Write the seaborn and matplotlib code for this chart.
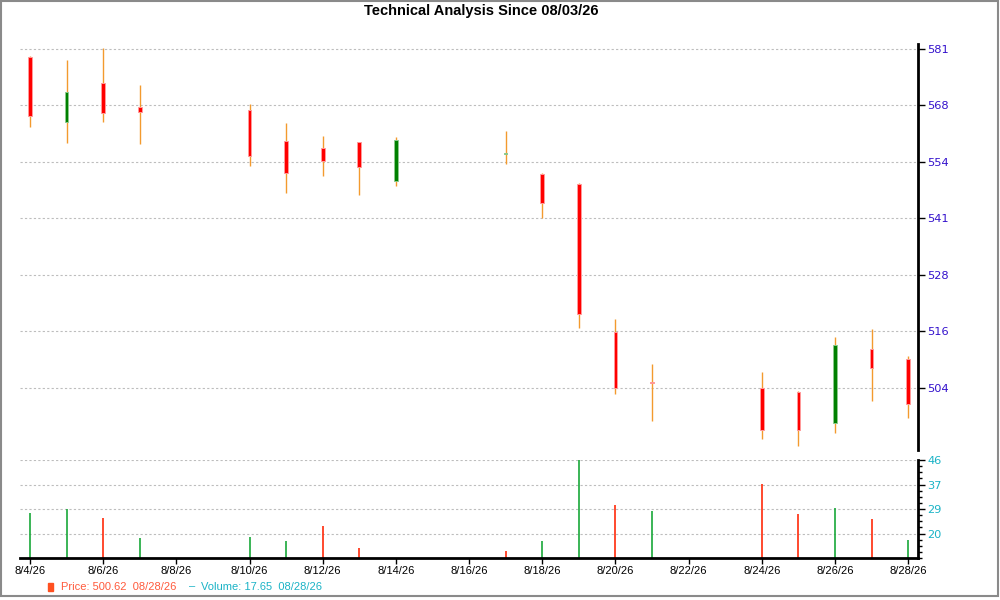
import matplotlib
matplotlib.use('Agg')
import matplotlib.pyplot as plt
import matplotlib.dates as mdates
from matplotlib.patches import Rectangle
from matplotlib.ticker import FixedLocator, NullLocator, FuncFormatter
import numpy as np
import pandas as pd
import seaborn as sns

# daily OHLC + volume
dates = ['2026-08-04', '2026-08-05', '2026-08-06', '2026-08-07', '2026-08-10',
         '2026-08-11', '2026-08-12', '2026-08-13', '2026-08-14', '2026-08-17',
         '2026-08-18', '2026-08-19', '2026-08-20', '2026-08-21', '2026-08-24',
         '2026-08-25', '2026-08-26', '2026-08-27', '2026-08-28']
opens = [579.0, 563.4, 572.7, 567.1, 566.3, 559.1, 557.3, 558.7, 549.8, 555.9,
         551.3, 549.0, 516.0, 505.3, 504.1, 503.2, 496.6, 512.4, 510.1]
highs = [579.3, 578.3, 581.3, 572.3, 567.8, 563.2, 560.2, 558.9, 560.0, 561.4,
         551.5, 549.2, 518.8, 509.2, 507.3, 503.4, 514.9, 516.6, 510.8]
lows = [562.4, 558.6, 563.6, 558.4, 553.2, 547.0, 550.9, 546.6, 548.6, 553.6,
        541.3, 516.9, 502.7, 497.1, 493.4, 491.9, 494.6, 501.3, 497.6]
closes = [564.8, 570.7, 565.6, 565.9, 555.4, 551.5, 554.4, 553.0, 559.2, 556.2,
          544.6, 519.9, 503.9, 505.0, 495.3, 495.3, 513.1, 508.3, 500.62]
# 8/14 volume sits below the axis floor, so no bar shows
volumes = [27.3, 28.7, 25.5, 18.5, 18.8, 17.5, 22.8, 15.0, 0.0, 13.7,
           17.5, 46.0, 30.2, 28.1, 37.6, 27.0, 29.0, 25.3, 17.65]
vol_up = [True, True, False, True, True, True, False, False, True, False,
          True, True, False, True, False, False, True, False, True]

price_ticks = [504, 516, 528, 541, 554, 568, 581]
vol_ticks = [20, 29, 37, 46]
title = 'Technical Analysis Since 08/03/26'
last_price = '500.62'
last_volume = '17.65'
last_date = '08/28/26'

df = pd.DataFrame({'date': pd.to_datetime(dates), 'open': opens, 'high': highs,
                   'low': lows, 'close': closes, 'volume': volumes, 'up': vol_up})
df['x'] = mdates.date2num(df['date'])

sns.set_theme(style='white')
plt.rcParams['font.family'] = ['Liberation Sans', 'DejaVu Sans']

fig = plt.figure(figsize=(10, 6), dpi=100)
ax = fig.add_axes([0.02, 0.25, 0.898, 0.6767])
axv = fig.add_axes([0.02, 0.07, 0.898, 0.1633], sharex=ax)

# candles
ax.vlines(df['x'], df['low'], df['high'], color='#f39a2e', lw=1, zorder=2)
body_lo = np.minimum(df['open'], df['close'])
body_h = np.abs(df['close'] - df['open'])
up = df['close'] > df['open']
ax.bar(df['x'][up], body_h[up], bottom=body_lo[up], width=0.1,
       color='#008000', edgecolor='#8cc98c', lw=0.7, zorder=3)
ax.bar(df['x'][~up], body_h[~up], bottom=body_lo[~up], width=0.1,
       color='#ff0000', edgecolor='#ff9a9a', lw=0.7, zorder=3)

ax.set_yscale('log')
lo_p = 504 * np.exp(-62 * 0.0004195)
hi_p = 504 * np.exp(344 * 0.0004195)
ax.set_ylim(lo_p, hi_p)
pt = np.geomspace(504, 581.1, 7)
ax.yaxis.set_major_locator(FixedLocator(pt))
ax.yaxis.set_minor_locator(NullLocator())
ax.set_yticklabels([str(v) for v in price_ticks])
ax.yaxis.tick_right()
ax.tick_params(axis='y', which='major', direction='out', length=5, width=1,
               color='black', pad=1.5, labelsize=8.2, labelcolor='#3311cc', right=True)
for lab in ax.get_yticklabels():
    lab.set_family('DejaVu Sans')
ax.tick_params(axis='x', bottom=False, labelbottom=False)
ax.grid(axis='y', color='#bdbdbd', ls=(0, (2, 2)), lw=0.8)
for s in ['left', 'top', 'bottom']:
    ax.spines[s].set_visible(False)
ax.spines['right'].set_color('black')
ax.spines['right'].set_linewidth(2)

# volume
vmin = 20 - (46 - 20) / 3
vsel = df[df['volume'] > 0]
axv.vlines(vsel['x'], vmin, vsel['volume'],
           colors=np.where(vsel['up'], '#19a83a', '#ff2a0a'), lw=1.2)
axv.set_ylim(vmin, 46)
vt = np.linspace(20, 46, 4)
axv.yaxis.set_major_locator(FixedLocator(vt))
axv.yaxis.set_minor_locator(FixedLocator(np.arange(vmin, 46.01, (46 - 20) / 12)))
axv.set_yticklabels([str(v) for v in vol_ticks])
axv.yaxis.tick_right()
axv.tick_params(axis='y', which='major', direction='out', length=5, width=1,
                color='black', pad=1.5, labelsize=8.2, labelcolor='#1ab3c6', right=True)
axv.tick_params(axis='y', which='minor', direction='out', length=3, width=1,
                color='black', right=True)
for lab in axv.get_yticklabels():
    lab.set_family('DejaVu Sans')
axv.grid(axis='y', color='#bdbdbd', ls=(0, (2, 2)), lw=0.8)
for s in ['left', 'top']:
    axv.spines[s].set_visible(False)
for s in ['right', 'bottom']:
    axv.spines[s].set_color('black')
    axv.spines[s].set_linewidth(2)

x0 = df['x'].iloc[0]
x1 = df['x'].iloc[-1]
axv.set_xlim(x0 - 0.273, x1 + 0.27)
axv.xaxis.set_major_locator(FixedLocator(np.arange(x0, x1 + 0.5, 2)))
axv.xaxis.set_major_formatter(FuncFormatter(
    lambda v, p: '{d.month}/{d.day}/{d:%y}'.format(d=mdates.num2date(v))))
axv.tick_params(axis='x', direction='out', length=4, width=1, color='black',
                pad=2, labelsize=8, labelcolor='black', bottom=True)

fig.text(0.481, 0.9825, title, ha='center', va='center', fontsize=10.5,
         fontweight='bold', color='black')

# legend line at the bottom
fig.patches.append(Rectangle((0.0477, 1 - 590.7 / 600), 0.005, 8 / 600,
                             transform=fig.transFigure, color='#ff5020'))
fig.text(0.061, 1 - 586.5 / 600, 'Price: %s  %s' % (last_price, last_date),
         ha='left', va='center', fontsize=8, color='#ff5a3c')
fig.text(0.189, 1 - 586.5 / 600, '\u2013', ha='left', va='center', fontsize=8,
         color='#1ab3c6')
fig.text(0.201, 1 - 586.5 / 600, 'Volume: %s  %s' % (last_volume, last_date),
         ha='left', va='center', fontsize=8, color='#1ab3c6')

fig.patches.append(Rectangle((0.0005, 0.006), 0.9975, 0.993, transform=fig.transFigure,
                             fill=False, edgecolor='#8a8a8a', lw=1.5))

fig.savefig('out.png', dpi=100, facecolor='white')
